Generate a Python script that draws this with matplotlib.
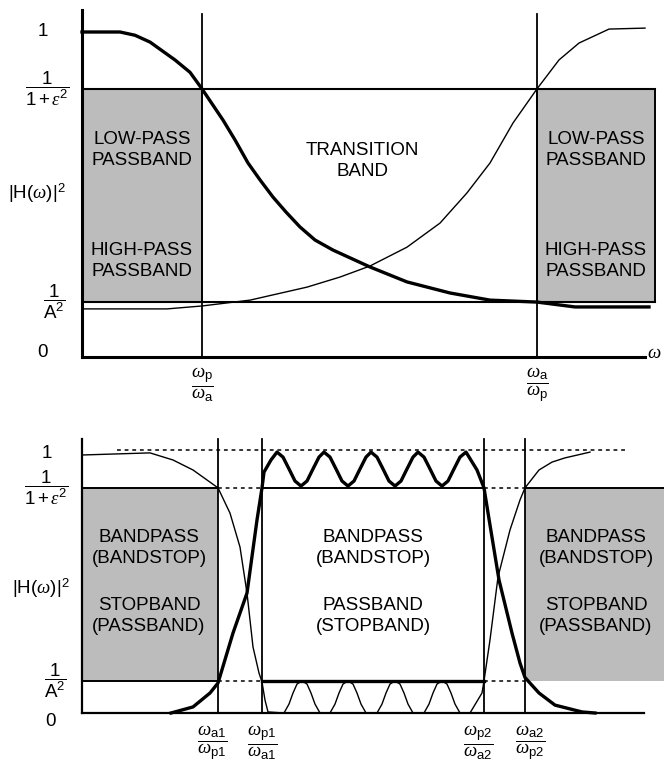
import matplotlib
matplotlib.use('Agg')
import matplotlib.pyplot as plt
from matplotlib.patches import Rectangle

plt.rcParams['font.family'] = ['Liberation Sans', 'DejaVu Sans']
plt.rcParams['mathtext.fontset'] = 'custom'
plt.rcParams['mathtext.rm'] = 'Liberation Sans'
plt.rcParams['mathtext.it'] = 'Liberation Serif:italic'
plt.rcParams['mathtext.bf'] = 'Liberation Sans:bold'

# ---------------- top panel data (low-pass / high-pass) ----------------
top_one, top_pass, top_stop = 1.0, 0.825, 0.169
w_p, w_a = 1.20, 4.55
top_box_right = 5.73

lp_x = [0.00, 0.38, 0.53, 0.68, 0.93, 1.08, 1.20, 1.41, 1.53, 1.66, 1.78, 1.91,
        2.04, 2.18, 2.33, 2.51, 2.88, 3.25, 3.68, 4.08, 4.55, 4.93, 5.67]
lp_y = [1.00, 1.00, 0.99, 0.969, 0.914, 0.876, 0.825, 0.729, 0.668, 0.597, 0.545, 0.492,
        0.446, 0.400, 0.360, 0.329, 0.277, 0.231, 0.197, 0.175, 0.169, 0.154, 0.154]

hp_x = [0.00, 0.85, 1.20, 1.68, 2.25, 2.58, 2.88, 3.25, 3.58, 3.85, 4.08, 4.31,
        4.55, 4.77, 4.97, 5.27, 5.63]
hp_y = [0.148, 0.148, 0.157, 0.175, 0.215, 0.246, 0.280, 0.338, 0.412, 0.505, 0.597, 0.720,
        0.825, 0.914, 0.966, 1.009, 1.012]

top_ylabels = ['1', r'$\dfrac{1}{1+\epsilon^2}$', r'$|\mathrm{H}(\omega)|^2$', r'$\dfrac{1}{\mathrm{A}^2}$', '0']
top_ylabel_pos = [1.0, 0.825, 0.505, 0.169, 0.015]
top_xlabels = [r'$\dfrac{\omega_{\mathrm{p}}}{\omega_{\mathrm{a}}}$', r'$\dfrac{\omega_{\mathrm{a}}}{\omega_{\mathrm{p}}}$']

# ---------------- bottom panel data (bandpass / bandstop) ----------------
bot_one, bot_pass, bot_stop = 1.0, 0.856, 0.122
w_a1, w_p1, w_p2, w_a2 = 1.36, 1.80, 4.02, 4.43

# bandstop-type response (thin)
bs_x = [0.00, 0.68, 0.91, 1.11, 1.25, 1.36, 1.48, 1.58, 1.65, 1.71, 1.77, 1.80, 1.83, 1.86,
        2.02, 2.07, 2.11, 2.15, 2.20, 2.25, 2.29, 2.33, 2.38,
        2.48, 2.53, 2.57, 2.61, 2.66, 2.71, 2.75, 2.79, 2.84,
        2.95, 3.00, 3.04, 3.08, 3.13, 3.18, 3.22, 3.26, 3.31,
        3.42, 3.47, 3.51, 3.55, 3.60, 3.65, 3.69, 3.73, 3.78,
        3.88, 4.00, 4.02, 4.08, 4.16, 4.28, 4.38, 4.43, 4.57, 4.70, 4.83, 5.08]
bs_y = [0.981, 0.989, 0.962, 0.924, 0.886, 0.856, 0.760, 0.631, 0.456, 0.251, 0.152, 0.118, 0.049, 0.004,
        0.0, 0.034, 0.076, 0.110, 0.122, 0.110, 0.076, 0.034, 0.0,
        0.0, 0.034, 0.076, 0.110, 0.122, 0.110, 0.076, 0.034, 0.0,
        0.0, 0.034, 0.076, 0.110, 0.122, 0.110, 0.076, 0.034, 0.0,
        0.0, 0.034, 0.076, 0.110, 0.122, 0.110, 0.076, 0.034, 0.0,
        0.0, 0.076, 0.122, 0.278, 0.517, 0.696, 0.810, 0.856, 0.924, 0.954, 0.970, 0.992]

# bandpass-type response (thick)
bp_x = [0.89, 1.11, 1.28, 1.36, 1.51, 1.65, 1.75, 1.80, 1.82, 1.89,
        1.95, 2.01, 2.07, 2.13, 2.19, 2.25, 2.31, 2.37,
        2.42, 2.48, 2.54, 2.60, 2.66, 2.72, 2.78, 2.84,
        2.89, 2.95, 3.01, 3.07, 3.13, 3.19, 3.25, 3.31,
        3.36, 3.42, 3.48, 3.54, 3.60, 3.66, 3.72, 3.78,
        3.84, 3.95, 4.02, 4.07, 4.17, 4.30, 4.38, 4.43, 4.47, 4.57, 4.73, 5.00, 5.13]
bp_y = [0.0, 0.023, 0.076, 0.114, 0.304, 0.456, 0.734, 0.856, 0.916, 0.962,
        0.992, 0.973, 0.928, 0.882, 0.863, 0.882, 0.928, 0.973,
        0.992, 0.973, 0.928, 0.882, 0.863, 0.882, 0.928, 0.973,
        0.992, 0.973, 0.928, 0.882, 0.863, 0.882, 0.928, 0.973,
        0.992, 0.973, 0.928, 0.882, 0.863, 0.882, 0.928, 0.973,
        0.992, 0.924, 0.856, 0.738, 0.506, 0.304, 0.190, 0.135, 0.118, 0.076, 0.030, 0.004, 0.0]

bot_ylabels = ['1', r'$\dfrac{1}{1+\epsilon^2}$', r'$|\mathrm{H}(\omega)|^2$', r'$\dfrac{1}{\mathrm{A}^2}$', '0']
bot_ylabel_pos = [0.985, 0.856, 0.475, 0.122, -0.034]
bot_xlabels = [r'$\dfrac{\omega_{\mathrm{a1}}}{\omega_{\mathrm{p1}}}$', r'$\dfrac{\omega_{\mathrm{p1}}}{\omega_{\mathrm{a1}}}$',
               r'$\dfrac{\omega_{\mathrm{p2}}}{\omega_{\mathrm{a2}}}$', r'$\dfrac{\omega_{\mathrm{a2}}}{\omega_{\mathrm{p2}}}$']

GRAY = '#bcbcbc'
FS = 13.5
LS = 1.3

fig = plt.figure(figsize=(6.64, 7.65), dpi=100)

# ======================= TOP PANEL =======================
ax1 = fig.add_axes([82/664, (765-357)/765, 582/664, 1.07*325/765])
ax1.set_xlim(0, 5.82)
ax1.set_ylim(0, 1.07)
ax1.set_xticks([]); ax1.set_yticks([])
for s in ['top', 'right']:
    ax1.spines[s].set_visible(False)
ax1.spines['left'].set_bounds(0, 1.068)
ax1.spines['bottom'].set_bounds(0, 5.63)
ax1.spines['left'].set_linewidth(2.2)
ax1.spines['bottom'].set_linewidth(2.2)
ax1.patch.set_visible(False)

ax1.add_patch(Rectangle((0, top_stop), w_p, top_pass-top_stop, fc=GRAY, ec='black', lw=1.2, zorder=1))
ax1.add_patch(Rectangle((w_a, top_stop), top_box_right-w_a, top_pass-top_stop, fc=GRAY, ec='black', lw=1.4, zorder=1))
ax1.plot([0, top_box_right], [top_pass, top_pass], color='black', lw=1.5, zorder=2)
ax1.plot([0, top_box_right], [top_stop, top_stop], color='black', lw=1.5, zorder=2)
for xv in [w_p, w_a]:
    ax1.plot([xv, xv], [0, 1.055], color='black', lw=1.3, zorder=2, clip_on=False)

ax1.plot(lp_x, lp_y, color='black', lw=2.4, zorder=3, clip_on=False, solid_joinstyle='round')
ax1.plot(hp_x, hp_y, color='black', lw=1.0, zorder=3, clip_on=False, solid_joinstyle='round')

kw = dict(ha='center', va='center', fontsize=FS, zorder=4, linespacing=LS)
ax1.text(0.60, 0.637, 'LOW-PASS\nPASSBAND', **kw)
ax1.text(0.60, 0.295, 'HIGH-PASS\nPASSBAND', **kw)
ax1.text(5.14, 0.637, 'LOW-PASS\nPASSBAND', **kw)
ax1.text(5.14, 0.295, 'HIGH-PASS\nPASSBAND', **kw)
ax1.text(2.80, 0.603, 'TRANSITION\nBAND', **kw)

for lab, yv, xv in zip(top_ylabels, top_ylabel_pos, [-0.39, -0.35, -0.45, -0.28, -0.39]):
    ax1.text(xv, yv, lab, ha='center', va='center', fontsize=FS, clip_on=False)
for lab, xv in zip(top_xlabels, [w_p, w_a]):
    ax1.text(xv, -0.086, lab, ha='center', va='center', fontsize=FS, clip_on=False)
ax1.text(5.72, 0.012, r'$\omega$', ha='center', va='center', fontsize=FS, clip_on=False)

# ======================= BOTTOM PANEL =======================
ax2 = fig.add_axes([82/664, (765-713)/765, 582/664, 1.05*263/765])
ax2.set_xlim(0, 5.82)
ax2.set_ylim(0, 1.05)
ax2.set_xticks([]); ax2.set_yticks([])
for s in ['top', 'right']:
    ax2.spines[s].set_visible(False)
ax2.spines['left'].set_bounds(0, 1.042)
ax2.spines['bottom'].set_bounds(0, 5.62)
ax2.spines['left'].set_linewidth(1.6)
ax2.spines['bottom'].set_linewidth(1.6)
ax2.patch.set_visible(False)

ax2.add_patch(Rectangle((0, bot_stop), w_a1, bot_pass-bot_stop, fc=GRAY, ec='none', zorder=1))
ax2.add_patch(Rectangle((w_a2, bot_stop), 5.82-w_a2, bot_pass-bot_stop, fc=GRAY, ec='none', zorder=1, clip_on=False))
# box edges
ax2.plot([0, w_a1], [bot_pass, bot_pass], color='black', lw=1.4, zorder=2)
ax2.plot([0, w_a1], [bot_stop, bot_stop], color='black', lw=1.4, zorder=2)
ax2.plot([w_p1, w_p2], [bot_pass, bot_pass], color='black', lw=1.4, zorder=2)
ax2.plot([w_p1, w_p2], [bot_stop, bot_stop], color='black', lw=2.4, zorder=2)
ax2.plot([w_a2, 5.82], [bot_pass, bot_pass], color='black', lw=1.4, zorder=2, clip_on=False)
# dashed guide lines
dash = (0, (2.5, 2.5))
ax2.plot([0.35, 5.43], [bot_one, bot_one], color='black', lw=1.1, ls=dash, zorder=2)
for y in [bot_pass, bot_stop]:
    ax2.plot([w_a1, w_p1], [y, y], color='black', lw=1.1, ls=dash, zorder=2)
    ax2.plot([w_p2, w_a2], [y, y], color='black', lw=1.1, ls=dash, zorder=2)
for xv in [w_a1, w_p1, w_p2, w_a2]:
    ax2.plot([xv, xv], [0, 1.042], color='black', lw=1.3, zorder=2, clip_on=False)

ax2.plot(bs_x, bs_y, color='black', lw=1.0, zorder=3, clip_on=False, solid_joinstyle='round')
ax2.plot(bp_x, bp_y, color='black', lw=2.4, zorder=3, clip_on=False, solid_joinstyle='round')

for xc in [0.67, 2.91, 5.14]:
    ax2.text(xc, 0.627, 'BANDPASS\n(BANDSTOP)', **kw)
ax2.text(0.67, 0.369, 'STOPBAND\n(PASSBAND)', **kw)
ax2.text(2.91, 0.369, 'PASSBAND\n(STOPBAND)', **kw)
ax2.text(5.14, 0.369, 'STOPBAND\n(PASSBAND)', **kw)

for lab, yv, xv in zip(bot_ylabels, bot_ylabel_pos, [-0.35, -0.36, -0.41, -0.27, -0.32]):
    ax2.text(xv, yv, lab, ha='center', va='center', fontsize=FS, clip_on=False)
for lab, xv in zip(bot_xlabels, [1.30, 1.80, 3.96, 4.48]):
    ax2.text(xv, -0.114, lab, ha='center', va='center', fontsize=FS, clip_on=False)

fig.savefig('out.png', dpi=100)
